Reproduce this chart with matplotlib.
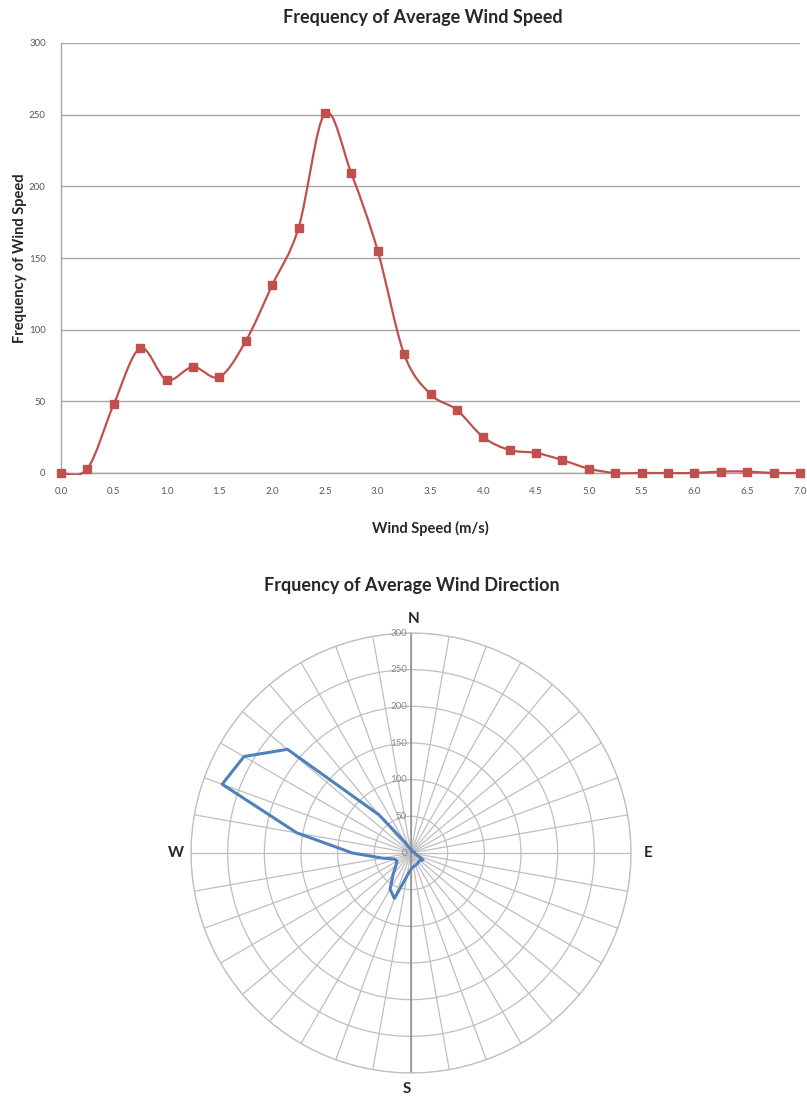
import numpy as np
import matplotlib
matplotlib.use("Agg")
import matplotlib.pyplot as plt
from matplotlib.path import Path
from matplotlib.patches import PathPatch, Rectangle
import matplotlib.transforms as mtransforms

plt.rcParams['font.family'] = ['Lato', 'DejaVu Sans']

# ---- wind speed histogram data ----
speed_bins = [0.0, 0.25, 0.5, 0.75, 1.0, 1.25, 1.5, 1.75, 2.0, 2.25, 2.5, 2.75,
              3.0, 3.25, 3.5, 3.75, 4.0, 4.25, 4.5, 4.75, 5.0, 5.25, 5.5, 5.75,
              6.0, 6.25, 6.5, 6.75, 7.0]
speed_counts = [0, 3, 48, 87, 65, 74, 67, 92, 131, 171, 251, 209,
                155, 83, 55, 44, 25, 16, 14, 9, 3, 0, 0, 0,
                0, 1, 1, 0, 0]
speed_ticks = [0.0, 0.5, 1.0, 1.5, 2.0, 2.5, 3.0, 3.5, 4.0, 4.5, 5.0, 5.5, 6.0, 6.5, 7.0]
speed_tick_labels = ['0.0', '0.5', '1.0', '1.5', '2.0', '2.5', '3.0', '3.5',
                     '4.0', '4.5', '5.0', '5.5', '6.0', '6.5', '7.0']
freq_ticks = [0, 50, 100, 150, 200, 250, 300]

# ---- wind direction data (bearing in degrees, clockwise from north) ----
direction_deg = [0, 10, 20, 30, 40, 50, 60, 70, 80, 90, 100, 110,
                 120, 130, 140, 150, 160, 170, 180, 190, 200, 210, 220, 230,
                 240, 250, 260, 270, 280, 290, 300, 310, 320, 330, 340, 350]
direction_counts = [5, 4, 3, 3, 3, 3, 3, 4, 5, 5, 6, 9,
                    19, 16, 16, 17, 18, 19, 22, 32, 66, 57, 38, 27,
                    22, 24, 40, 80, 158, 274, 263, 220, 68, 18, 8, 6]
ring_ticks = [0, 50, 100, 150, 200, 250, 300]
compass_labels = ['N', 'E', 'S', 'W']

RED = '#C0504D'
BLUE = '#4F81BD'
GRID = '#A6A6A6'
DARK = '#262626'

W, H = 807, 1097
fig = plt.figure(figsize=(W / 100, H / 100), dpi=100)
fig.patch.set_facecolor('white')


def fx(px):
    return px / W


def fy(py):
    return 1 - py / H


# ---------------- top: line chart ----------------
ax = fig.add_axes([fx(61), fy(473), fx(800) - fx(61), fy(43) - fy(473)])
ax.set_xlim(speed_bins[0], speed_bins[-1])
ax.set_ylim(freq_ticks[0], freq_ticks[-1])
ax.set_yticks(freq_ticks)
ax.set_yticklabels([str(v) for v in freq_ticks])
ax.set_xticks(speed_ticks)
ax.set_xticklabels(speed_tick_labels)
ax.tick_params(length=0, labelsize=7, labelcolor='#595959')
ax.tick_params(axis='y', pad=11)
ax.tick_params(axis='x', pad=10)
ax.yaxis.grid(True, color=GRID, lw=1.0)
ax.set_axisbelow(True)
for side in ('top', 'right'):
    ax.spines[side].set_visible(False)
for side in ('left', 'bottom'):
    ax.spines[side].set_color(GRID)
    ax.spines[side].set_linewidth(1.0)

# smoothed line through the points (Catmull-Rom as cubic Bezier segments)
xs = np.asarray(speed_bins, float)
ys = np.asarray(speed_counts, float)
pts = np.column_stack([xs, ys])
ext = np.vstack([pts[0], pts, pts[-1]])
verts = [tuple(pts[0])]
codes = [Path.MOVETO]
for i in range(len(pts) - 1):
    p0, p1, p2, p3 = ext[i], ext[i + 1], ext[i + 2], ext[i + 3]
    c1 = p1 + (p2 - p0) / 6.0
    c2 = p2 - (p3 - p1) / 6.0
    verts += [tuple(c1), tuple(c2), tuple(p2)]
    codes += [Path.CURVE4, Path.CURVE4, Path.CURVE4]
curve = PathPatch(Path(verts, codes), facecolor='none', edgecolor=RED,
                  lw=1.6, zorder=3)
ax.add_patch(curve)
clip_box = Rectangle((-0.01, -0.004), 1.02, 1.02, transform=ax.transAxes,
                     facecolor='none', edgecolor='none')
ax.add_patch(clip_box)
curve.set_clip_path(clip_box)
ax.plot(speed_bins, speed_counts, linestyle='none', marker='s', markersize=6,
        color=RED, clip_on=False, zorder=4)

ax.set_xlabel('Wind Speed (m/s)', fontsize=10.5, fontweight='bold',
              color=DARK, labelpad=18)
fig.text(fx(20), fy(258), 'Frequency of Wind Speed', rotation=90,
         ha='center', va='center', fontsize=10.5, fontweight='bold', color=DARK)
fig.text(fx(423), fy(17), 'Frequency of Average Wind Speed', ha='center',
         va='center', fontsize=13, fontweight='bold', color=DARK)

# ---------------- bottom: radar / wind rose ----------------
cx, cy, R = 411, 853, 220
pax = fig.add_axes([fx(cx - R), fy(cy + R), fx(2 * R), (2 * R) / H],
                   projection='polar')
pax.set_theta_zero_location('N')
pax.set_theta_direction(-1)
pax.set_ylim(ring_ticks[0], ring_ticks[-1])
pax.set_yticks(ring_ticks[1:])
pax.set_yticklabels([])
pax.set_xticks(np.deg2rad(direction_deg))
pax.set_xticklabels([])
pax.grid(True, color='#BFBFBF', lw=0.9)
pax.spines['polar'].set_color('#BFBFBF')
pax.spines['polar'].set_linewidth(0.9)
pax.set_facecolor('white')

# value axis (north-south line)
pax.plot([0, 0], [0, ring_ticks[-1]], color='#8C8C8C', lw=1.1, zorder=2)
pax.plot([np.pi, np.pi], [0, ring_ticks[-1]], color='#8C8C8C', lw=1.1, zorder=2)

theta = np.deg2rad(direction_deg + [direction_deg[0]])
rad = direction_counts + [direction_counts[0]]
pax.plot(theta, rad, color=BLUE, lw=2.2, zorder=4)

off = mtransforms.ScaledTranslation(-4 / 100, 0, fig.dpi_scale_trans)
for v in ring_ticks:
    pax.text(0, v, str(v), transform=pax.transData + off, ha='right',
             va='center', fontsize=7, color='#8C8C8C', zorder=5)

compass_pos = {'N': (414, 619), 'E': (648, 853), 'S': (407, 1089), 'W': (176, 853)}
for lab in compass_labels:
    px, py = compass_pos[lab]
    fig.text(fx(px), fy(py), lab, ha='center', va='center', fontsize=11,
             fontweight='bold', color=DARK)

fig.text(fx(412), fy(585), 'Frquency of Average Wind Direction', ha='center',
         va='center', fontsize=13, fontweight='bold', color=DARK)

fig.savefig('out.png', dpi=100, facecolor='white')
